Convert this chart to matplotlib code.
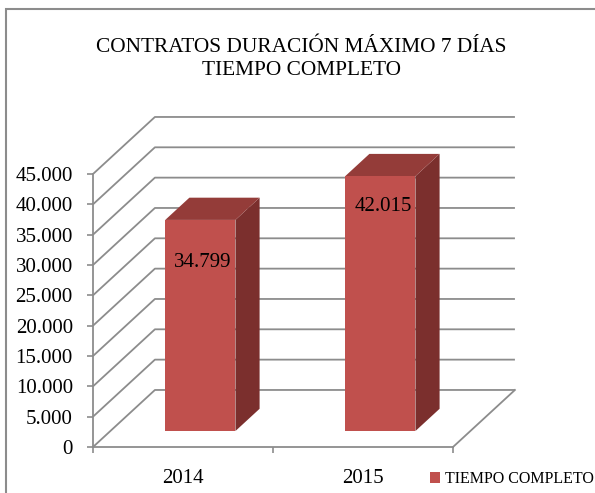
import numpy as np
import matplotlib.pyplot as plt
from matplotlib.patches import Polygon, Rectangle, Patch

years = ['2014', '2015']
values = [34799, 42015]
yticks = np.arange(0, 45001, 5000)
title = 'CONTRATOS DURACIÓN MÁXIMO 7 DÍAS\nTIEMPO COMPLETO'
serie = 'TIEMPO COMPLETO'

plt.rcParams['font.family'] = 'Liberation Serif'


def miles(v):
    return '{:,}'.format(int(v)).replace(',', '.')


fig = plt.figure(figsize=(5.95, 4.93), dpi=100)
ax = fig.add_axes([93/595, 46/493, 360/595, 273/493])
ax.set_xlim(-0.5, 1.5)
ax.set_ylim(0, 45000)

# fake 3d box: depth offset in data units
dx, dy = 0.344, 9400
grid = '#8c8c8c'
for v in yticks:
    ax.plot([-0.5, -0.5 + dx, 1.5 + dx], [v, v + dy, v + dy], color=grid, lw=1.3,
            clip_on=False, zorder=1, solid_capstyle='butt')
ax.plot([1.5, 1.5 + dx], [0, dy], color=grid, lw=1.3, clip_on=False, zorder=1)

# bars
w = 0.39
d0, d1 = 0.28, 0.67
front_c, side_c, top_c = '#C0504D', '#7B2F2D', '#943C39'
drop = [-31, -22]  # label offset below bar top, points
for i, v in enumerate(values):
    x0 = i - w/2 + d0*dx
    x1 = x0 + w
    b = d0*dy
    t = b + v
    ddx = (d1 - d0)*dx
    ddy = (d1 - d0)*dy
    ax.add_patch(Polygon([(x1, b), (x1 + ddx, b + ddy), (x1 + ddx, t + ddy), (x1, t)],
                         fc=side_c, ec='none', clip_on=False, zorder=3))
    ax.add_patch(Polygon([(x0, t), (x1, t), (x1 + ddx, t + ddy), (x0 + ddx, t + ddy)],
                         fc=top_c, ec='none', clip_on=False, zorder=3))
    ax.add_patch(Polygon([(x0, b), (x1, b), (x1, t), (x0, t)],
                         fc=front_c, ec='none', clip_on=False, zorder=4))
    ax.annotate(miles(v), ((x0 + x1)/2, t), xytext=(2, drop[i]), textcoords='offset points',
                ha='center', va='center', fontsize=15, zorder=5)

ax.set_yticks(yticks)
ax.set_yticklabels([miles(v) for v in yticks])
ax.set_xticks([0, 1])
ax.set_xticklabels(years)
ax.set_xticks([-0.5, 0.5, 1.5], minor=True)
ax.tick_params(axis='y', length=4.5, width=1.2, color=grid, pad=10, labelsize=15)
ax.tick_params(axis='x', which='major', length=0, pad=16, labelsize=15)
ax.tick_params(axis='x', which='minor', length=4, width=1.2, color=grid)
for s in ['top', 'right']:
    ax.spines[s].set_visible(False)
for s in ['left', 'bottom']:
    ax.spines[s].set_color(grid)
    ax.spines[s].set_linewidth(1.3)
ax.patch.set_visible(False)

fig.text(0.507, 1 - 59/493, title, ha='center', va='center', fontsize=15.4, linespacing=1.3)

fig.legend(handles=[Patch(fc=front_c, ec='none', label=serie)], loc='center left',
           bbox_to_anchor=(430/595, 1 - 479/493), frameon=False, fontsize=11.5,
           handlelength=0.65, handleheight=0.65, handletextpad=0.3, borderpad=0,
           borderaxespad=0)

# outer frame of the chart area
fig.patches.append(Rectangle((6/595, -0.1), 1.2, 1.1 - 9/493, transform=fig.transFigure,
                             fill=False, ec='#8c8c8c', lw=1.5))

fig.savefig('out.png', dpi=100)
